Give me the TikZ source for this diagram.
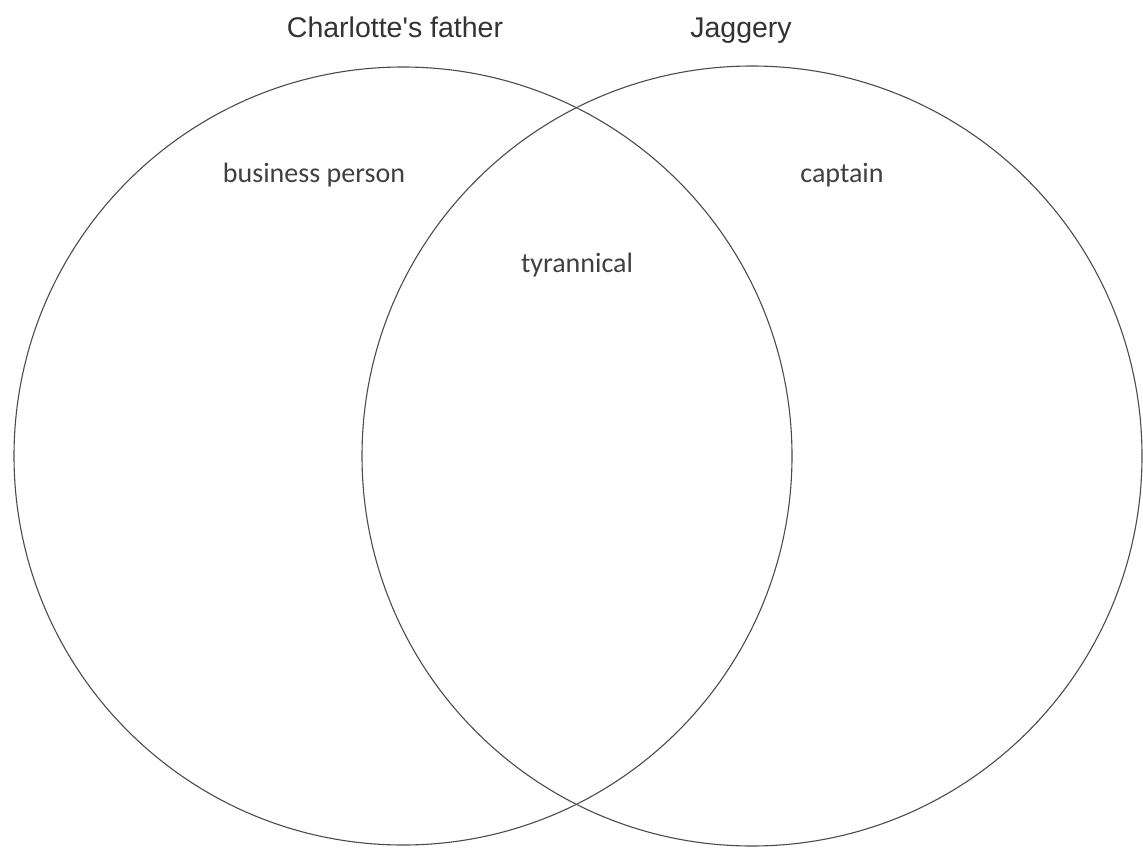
\documentclass[tikz,border=0pt]{standalone}
\usepackage{fontspec}
\setmainfont{Liberation Sans}
\newfontfamily\handfont{Carlito}
\begin{document}
\begin{tikzpicture}[x=1pt,y=-1pt,
  setline/.style={draw=black!70,line width=1.1pt},
  titletext/.style={anchor=base,text=black!80,font=\fontsize{28.5}{30}\selectfont},
  handtext/.style={anchor=base,text=black!75,font=\handfont\fontsize{28}{30}\selectfont}]
  \useasboundingbox (0,0) rectangle (1143,851);
  \fill[white] (0,0) rectangle (1143,851);
  % the two sets
  \draw[setline] (403,456) circle (389);
  \draw[setline] (752,456) circle (390);
  \node[titletext] (fathertitle) at (395,38) {Charlotte\textquotesingle s father};
  \node[titletext] (jaggerytitle) at (741,38) {Jaggery};
  \node[handtext] (business) at (314,182) {business person};
  \node[handtext] (captain) at (842,182) {captain};
  \node[handtext] (tyrannical) at (577,272) {tyrannical};
\end{tikzpicture}
\end{document}
